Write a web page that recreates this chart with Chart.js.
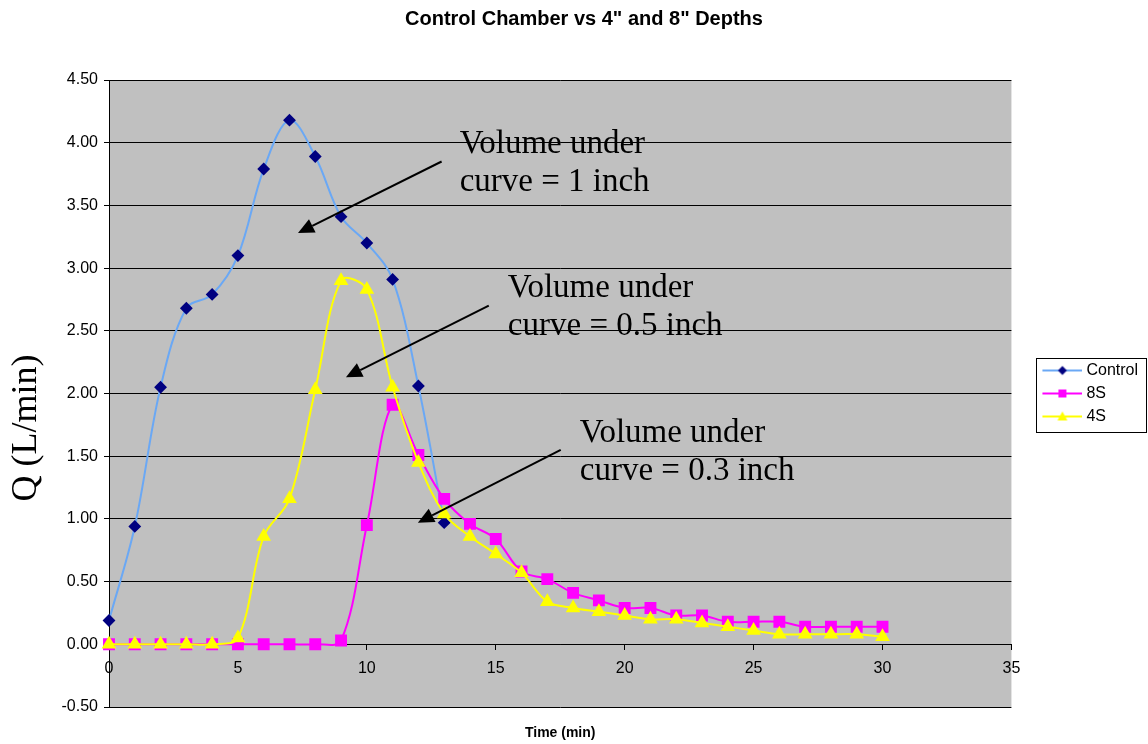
<!DOCTYPE html>
<html>
<head>
<meta charset="utf-8">
<title>Control Chamber vs 4" and 8" Depths</title>
<script src="https://cdn.jsdelivr.net/npm/chart.js@4.4.0/dist/chart.umd.min.js"></script>
<style>
  body { margin: 0; background: #fff; }
  #wrap { width: 1148px; height: 744px; }
</style>
</head>
<body>
<div id="wrap"><canvas id="myChart" width="1148" height="744"></canvas></div>
<script>
// flow readings, one per minute
const minutes = [0, 1, 2, 3, 4, 5, 6, 7, 8, 9, 10, 11, 12, 13, 14, 15, 16, 17, 18, 19, 20,
                 21, 22, 23, 24, 25, 26, 27, 28, 29, 30];
const control = [0.19, 0.94, 2.05, 2.68, 2.79, 3.10, 3.79, 4.18, 3.89, 3.41, 3.20, 2.91, 2.06, 0.97];
const depth8 = [0, 0, 0, 0, 0, 0, 0, 0, 0, 0.03, 0.95, 1.91, 1.51, 1.16, 0.96, 0.84, 0.58, 0.52,
                0.41, 0.35, 0.29, 0.29, 0.23, 0.23, 0.18, 0.18, 0.18, 0.14, 0.14, 0.14, 0.14];
const depth4 = [0, 0, 0, 0, 0, 0.05, 0.86, 1.16, 2.03, 2.90, 2.83, 2.05, 1.45, 1.04, 0.86, 0.72,
                0.57, 0.34, 0.29, 0.26, 0.23, 0.20, 0.20, 0.17, 0.14, 0.11, 0.08, 0.08, 0.08, 0.08, 0.06];
const seriesNames = ['Control', '8S', '4S'];

// callouts, placed in chart units (minutes, L/min)
const notes = [
  { lines: ['Volume under', 'curve = 1 inch'], x: 13.6, y: 3.92, tail: [12.9, 3.85], tip: [7.33, 3.28] },
  { lines: ['Volume under', 'curve = 0.5 inch'], x: 15.47, y: 2.77, tail: [14.73, 2.70], tip: [9.19, 2.13] },
  { lines: ['Volume under', 'curve = 0.3 inch'], x: 18.26, y: 1.61, tail: [17.52, 1.55], tip: [11.98, 0.97] }
];

const toPoints = values => values.map((v, i) => ({ x: minutes[i], y: v }));

// small line + marker swatch for the legend
function legendIcon(lineColor, markColor, shape) {
  const c = document.createElement('canvas');
  c.width = 68; c.height = 14;
  const g = c.getContext('2d');
  g.strokeStyle = lineColor;
  g.lineWidth = 2;
  g.beginPath(); g.moveTo(28, 7); g.lineTo(68, 7); g.stroke();
  g.fillStyle = markColor;
  g.beginPath();
  if (shape === 'diamond') {
    g.moveTo(48, 2.5); g.lineTo(52.5, 7); g.lineTo(48, 11.5); g.lineTo(43.5, 7);
  } else if (shape === 'square') {
    g.rect(44, 3, 8, 8);
  } else {
    g.moveTo(48, 2); g.lineTo(53, 11); g.lineTo(43, 11);
  }
  g.closePath();
  g.fill();
  return c;
}

const icons = [
  legendIcon('#6AA8F5', '#000080', 'diamond'),
  legendIcon('#FF00FF', '#FF00FF', 'square'),
  legendIcon('#FFFF00', '#FFFF00', 'triangle')
];

const decorations = {
  id: 'decorations',
  beforeDraw(chart) {
    const { ctx, chartArea: a } = chart;
    ctx.save();
    ctx.fillStyle = '#C0C0C0';
    ctx.fillRect(a.left, a.top, a.right - a.left, a.bottom - a.top);
    ctx.restore();
  },
  afterDraw(chart) {
    const { ctx, scales: { x, y } } = chart;
    ctx.save();

    // y axis title
    ctx.translate(27, 428);
    ctx.rotate(-Math.PI / 2);
    ctx.font = '36px "Liberation Serif", "Times New Roman", serif';
    ctx.fillStyle = '#000';
    ctx.textAlign = 'center';
    ctx.textBaseline = 'middle';
    ctx.fillText('Q (L/min)', 0, 0);
    ctx.setTransform(1, 0, 0, 1, 0, 0);

    // callout text and arrows
    ctx.font = '33px "Liberation Serif", "Times New Roman", serif';
    ctx.textAlign = 'left';
    ctx.textBaseline = 'alphabetic';
    notes.forEach(n => {
      const tx = x.getPixelForValue(n.x);
      const ty = y.getPixelForValue(n.y);
      n.lines.forEach((line, i) => ctx.fillText(line, tx, ty + i * 38));

      const x0 = x.getPixelForValue(n.tail[0]), y0 = y.getPixelForValue(n.tail[1]);
      const x1 = x.getPixelForValue(n.tip[0]), y1 = y.getPixelForValue(n.tip[1]);
      const ang = Math.atan2(y1 - y0, x1 - x0);
      const len = 16, half = 7.5;
      const bx = x1 - Math.cos(ang) * len, by = y1 - Math.sin(ang) * len;
      ctx.strokeStyle = '#000';
      ctx.lineWidth = 2;
      ctx.beginPath(); ctx.moveTo(x0, y0); ctx.lineTo(bx, by); ctx.stroke();
      ctx.beginPath();
      ctx.moveTo(x1, y1);
      ctx.lineTo(bx + Math.sin(ang) * half, by - Math.cos(ang) * half);
      ctx.lineTo(bx - Math.sin(ang) * half, by + Math.cos(ang) * half);
      ctx.closePath();
      ctx.fillStyle = '#000';
      ctx.fill();
    });

    // frame round the legend
    const hb = chart.legend.legendHitBoxes;
    if (hb && hb.length) {
      const first = hb[0], last = hb[hb.length - 1];
      const left = Math.round(first.left + 18) + 0.5;
      const top = Math.round(first.top - 5) + 0.5;
      const bottom = Math.round(last.top + last.height + 7) + 0.5;
      const right = chart.width - 1.5;
      ctx.strokeStyle = '#000';
      ctx.lineWidth = 1;
      ctx.strokeRect(left, top, right - left, bottom - top);
    }
    ctx.restore();
  }
};

Chart.defaults.color = '#000';
Chart.defaults.font.family = '"Liberation Sans", Arial, sans-serif';

const ctx = document.getElementById('myChart').getContext('2d');
const chart = new Chart(ctx, {
  type: 'line',
  data: {
    datasets: [
      {
        label: seriesNames[0],
        data: toPoints(control),
        borderColor: '#6AA8F5',
        backgroundColor: '#000080',
        pointBorderColor: '#000080',
        pointStyle: 'rectRot',
        pointRadius: 5,
        borderWidth: 2,
        tension: 0.35,
        order: 3,
        clip: false
      },
      {
        label: seriesNames[1],
        data: toPoints(depth8),
        borderColor: '#FF00FF',
        backgroundColor: '#FF00FF',
        pointStyle: 'rect',
        pointRadius: 7,
        borderWidth: 2,
        tension: 0.35,
        order: 2,
        clip: false
      },
      {
        label: seriesNames[2],
        data: toPoints(depth4),
        borderColor: '#FFFF00',
        backgroundColor: '#FFFF00',
        pointStyle: 'triangle',
        pointRadius: 6.5,
        borderWidth: 2,
        tension: 0.35,
        order: 1,
        clip: false
      }
    ]
  },
  options: {
    responsive: false,
    animation: false,
    devicePixelRatio: 1,
    layout: { padding: { left: 20, right: 0, top: 0, bottom: 0 } },
    plugins: {
      title: {
        display: true,
        text: 'Control Chamber vs 4" and 8" Depths',
        font: { size: 20, weight: 'bold', lineHeight: 1.2 },
        padding: { top: 7, bottom: 49 }
      },
      subtitle: {
        display: true,
        position: 'bottom',
        fullSize: false,
        text: 'Time (min)',
        font: { size: 14, weight: 'bold', lineHeight: 1.2 },
        padding: { top: 17.6, bottom: 2.6 }
      },
      legend: {
        position: 'right',
        align: 'center',
        fullSize: false,
        labels: {
          usePointStyle: true,
          pointStyleWidth: 60,
          padding: 7,
          font: { size: 16 },
          generateLabels: c => c.data.datasets.map((ds, i) => ({
            text: ds.label,
            pointStyle: icons[i],
            fillStyle: 'transparent',
            strokeStyle: 'transparent',
            lineWidth: 0,
            hidden: false,
            datasetIndex: i
          }))
        }
      },
      tooltip: { enabled: false }
    },
    scales: {
      x: {
        type: 'linear',
        position: { y: 0 },
        min: 0,
        max: 35,
        ticks: { stepSize: 5, font: { size: 16 }, padding: 10, maxRotation: 0 },
        grid: { drawOnChartArea: false, drawTicks: true, tickLength: 5, color: '#000' },
        border: { display: true, color: '#000', width: 1 }
      },
      y: {
        min: -0.5,
        max: 4.5,
        ticks: {
          stepSize: 0.5,
          font: { size: 16 },
          padding: 6,
          callback: v => v.toFixed(2)
        },
        grid: { color: '#000', tickLength: 5 },
        border: { display: true, color: '#000', width: 1 },
        afterFit: scale => { scale.width = 89; }
      }
    }
  },
  plugins: [decorations]
});
</script>
</body>
</html>
